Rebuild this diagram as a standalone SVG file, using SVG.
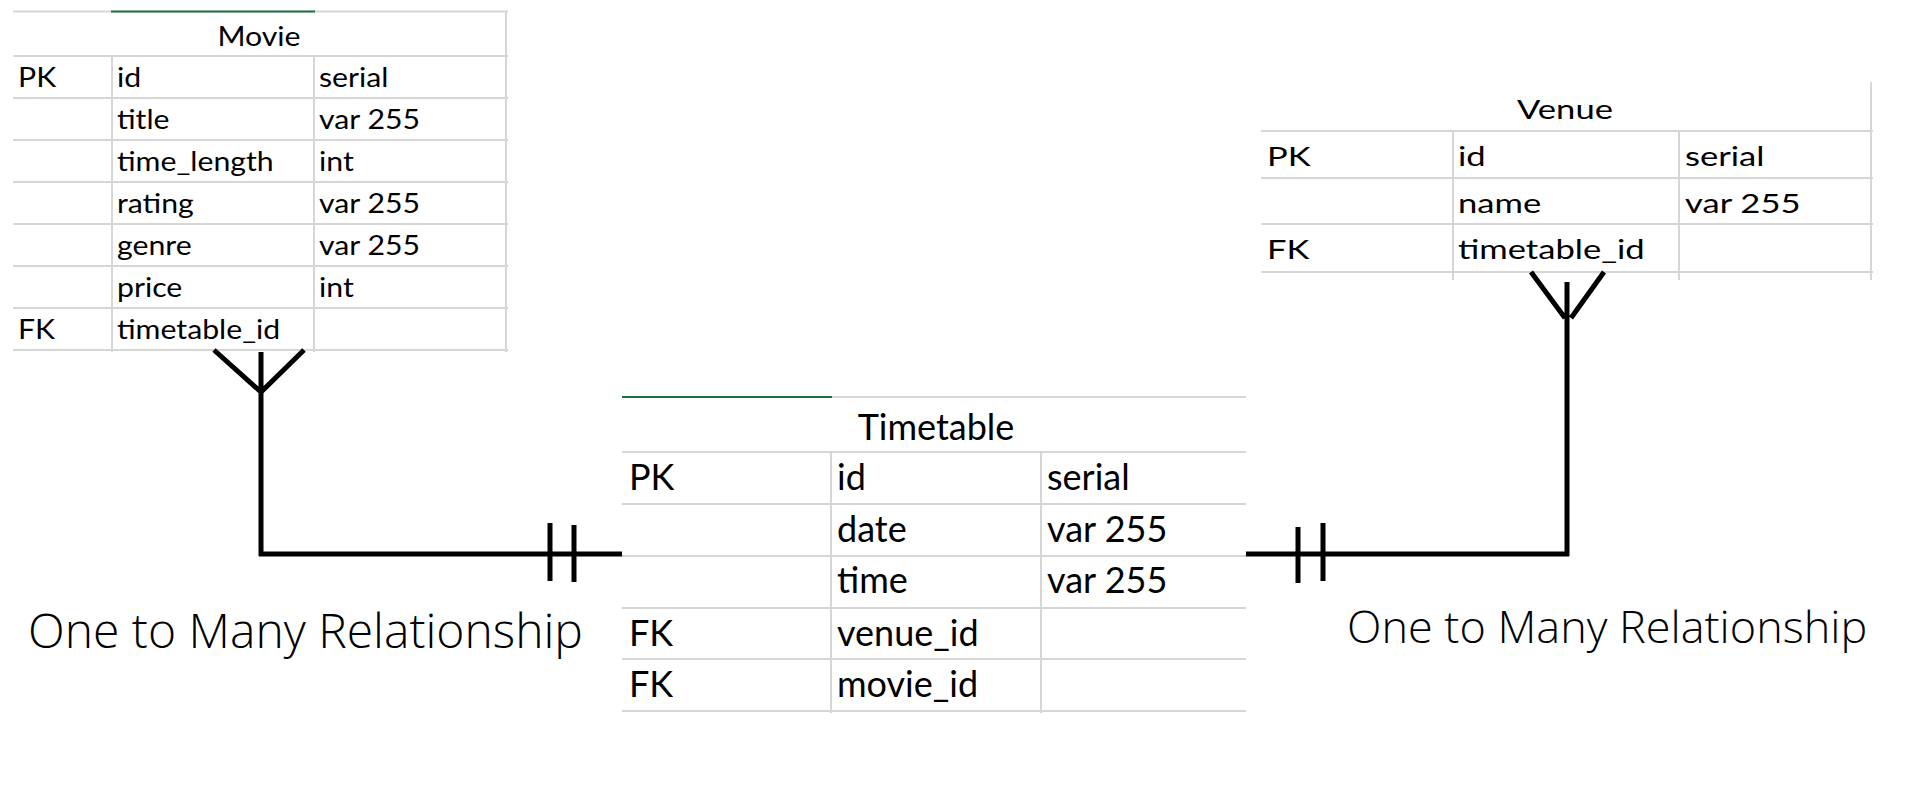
<svg xmlns="http://www.w3.org/2000/svg" width="1920" height="791" viewBox="0 0 1920 791">
<style>
.grid{stroke:#d6d6d6;stroke-width:2;fill:none}
.green{stroke:#1e7145;stroke-width:2;fill:none}
.t{font-family:Lato,"Liberation Sans",sans-serif;fill:#000}
.m{font-size:27px}
.v{font-size:26px}
.tt{font-size:36px}
.rel{stroke:#000;stroke-width:5;fill:none;stroke-linecap:butt}
.lbl{font-family:"Open Sans","Liberation Sans",sans-serif;font-weight:300;fill:#000}
</style>
<rect width="1920" height="791" fill="#fff"/>
<g id="movie">
<path class="grid" d="M13 11.5H508M13 56H508M13 98H508M13 140H508M13 182H508M13 224H508M13 266H508M13 308H508M13 350H508M506 11V352M112 56V352M314 56V352"/>
<path class="green" d="M111 11.5H315"/>
<g class="t m" transform="scale(1.12,1)">
<text x="231.25" y="46" text-anchor="middle">Movie</text>
<text x="16.07" y="87">PK</text><text x="104.46" y="87">id</text><text x="284.82" y="87">serial</text>
<text x="104.46" y="129">title</text><text x="284.82" y="129">var 255</text>
<text x="104.46" y="171">time_length</text><text x="284.82" y="171">int</text>
<text x="104.46" y="213">rating</text><text x="284.82" y="213">var 255</text>
<text x="104.46" y="255">genre</text><text x="284.82" y="255">var 255</text>
<text x="104.46" y="297">price</text><text x="284.82" y="297">int</text>
<text x="16.07" y="339">FK</text><text x="104.46" y="339">timetable_id</text>
</g>
</g>
<g id="venue">
<path class="grid" d="M1261 131H1873M1261 178H1873M1261 224H1873M1261 272H1873M1871 82V280M1453 131V280M1679 131V280"/>
<g class="t v" transform="scale(1.33,1)">
<text x="1176.69" y="119" text-anchor="middle">Venue</text>
<text x="952.63" y="166">PK</text><text x="1096.24" y="166">id</text><text x="1266.92" y="166">serial</text>
<text x="1096.24" y="213">name</text><text x="1266.92" y="213">var 255</text>
<text x="952.63" y="259">FK</text><text x="1096.24" y="259">timetable_id</text>
</g>
</g>
<g id="timetable">
<path class="grid" d="M622 397H1246M622 452H1246M622 504H1246M622 556H1246M622 608H1246M622 659H1246M622 711H1246M831 452V713M1041 452V713"/>
<path class="green" d="M622 397H832"/>
<g class="t tt">
<text x="936" y="440" text-anchor="middle">Timetable</text>
<text x="629" y="490">PK</text><text x="837" y="490">id</text><text x="1047" y="490">serial</text>
<text x="837" y="542">date</text><text x="1047" y="542">var 255</text>
<text x="837" y="593">time</text><text x="1047" y="593">var 255</text>
<text x="629" y="646">FK</text><text x="837" y="646">venue_id</text>
<text x="629" y="697">FK</text><text x="837" y="697">movie_id</text>
</g>
</g>
<g id="connectors">
<path class="rel" d="M261 352V556M214 350L261 392L304 350M259 554H622M550 523V581M574 525V582"/>
<path class="rel" d="M1567 282V556M1531 272L1565 318M1604 272L1571 318M1246 554H1569M1298 527V583M1323 523V581"/>
</g>
<g id="labels">
<text class="lbl" x="28" y="648" font-size="48">One to Many Relationship</text>
<text class="lbl" x="1347" y="643" font-size="45">One to Many Relationship</text>
</g>
</svg>
